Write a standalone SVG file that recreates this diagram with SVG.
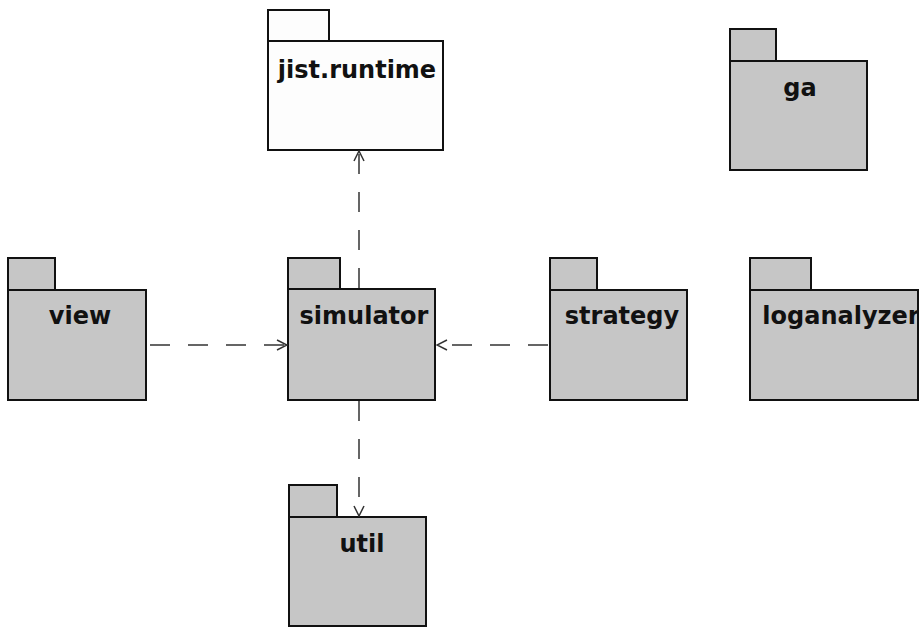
<svg xmlns="http://www.w3.org/2000/svg" width="919" height="628" viewBox="0 0 919 628">
  <style>
    .box { stroke: #111; stroke-width: 2; }
    .shaded { fill: #c6c6c6; }
    .plain { fill: #fdfdfd; }
    .label { font-family: "DejaVu Sans", Verdana, sans-serif; font-weight: bold; font-size: 24px; fill: #111; text-anchor: middle; }
    .dep { fill: none; stroke: #333; stroke-width: 1.5; stroke-dasharray: 20 18; }
  </style>
  <defs>
    <marker id="open" viewBox="0 0 12 12" refX="11" refY="6" markerWidth="12" markerHeight="12" markerUnits="userSpaceOnUse" orient="auto">
      <path d="M1,1 L11,6 L1,11" fill="none" stroke="#333" stroke-width="1.5"/>
    </marker>
  </defs>
  <rect width="919" height="628" fill="#fff"/>

  <g id="jist-runtime">
    <rect class="box plain" x="268" y="10" width="61" height="31"/>
    <rect class="box plain" x="268" y="41" width="175" height="109"/>
    <text class="label" x="357" y="78">jist.runtime</text>
  </g>

  <g id="ga">
    <rect class="box shaded" x="730" y="29" width="46" height="32"/>
    <rect class="box shaded" x="730" y="61" width="137" height="109"/>
    <text class="label" x="800" y="96">ga</text>
  </g>

  <g id="view">
    <rect class="box shaded" x="8" y="258" width="47" height="32"/>
    <rect class="box shaded" x="8" y="290" width="138" height="110"/>
    <text class="label" x="80" y="324">view</text>
  </g>

  <g id="simulator">
    <rect class="box shaded" x="288" y="258" width="52" height="31"/>
    <rect class="box shaded" x="288" y="289" width="147" height="111"/>
    <text class="label" x="364" y="324">simulator</text>
  </g>

  <g id="strategy">
    <rect class="box shaded" x="550" y="258" width="47" height="32"/>
    <rect class="box shaded" x="550" y="290" width="137" height="110"/>
    <text class="label" x="622" y="324">strategy</text>
  </g>

  <g id="loganalyzer">
    <rect class="box shaded" x="750" y="258" width="61" height="32"/>
    <rect class="box shaded" x="750" y="290" width="168" height="110"/>
    <text class="label" x="841" y="324">loganalyzer</text>
  </g>

  <g id="util">
    <rect class="box shaded" x="289" y="485" width="48" height="32"/>
    <rect class="box shaded" x="289" y="517" width="137" height="109"/>
    <text class="label" x="362" y="552">util</text>
  </g>

  <g id="connectors">
    <path class="dep" d="M150,345 L287,345" marker-end="url(#open)"/>
    <path class="dep" d="M548,345 L437,345" marker-end="url(#open)"/>
    <path class="dep" d="M359,288 L359,151" marker-end="url(#open)"/>
    <path class="dep" d="M359,401 L359,516" marker-end="url(#open)"/>
  </g>
</svg>
